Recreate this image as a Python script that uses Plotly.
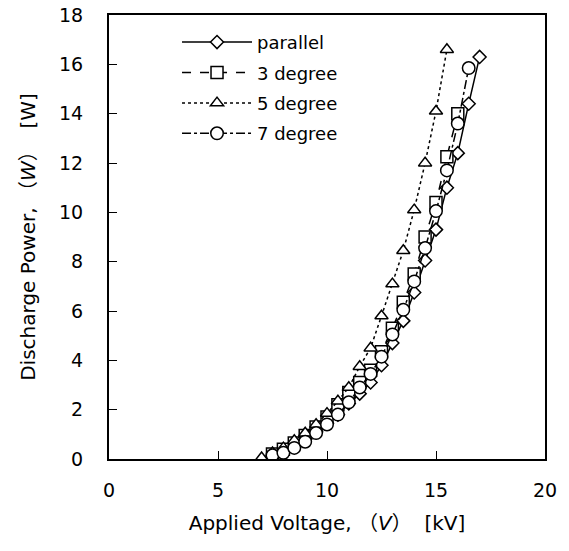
import plotly.graph_objects as go

# Applied voltage (kV) and discharge power (W)
x_parallel = [7.5, 8.0, 8.5, 9.0, 9.5, 10.0, 10.5, 11.0, 11.5, 12.0, 12.5, 13.0, 13.5, 14.0, 14.5, 15.0, 15.5, 16.0, 16.5, 17.0]
y_parallel = [0.1, 0.3, 0.5, 0.8, 1.1, 1.45, 1.8, 2.25, 2.65, 3.1, 3.8, 4.7, 5.6, 6.75, 8.05, 9.3, 11.0, 12.4, 14.4, 16.3]

x_3deg = [7.5, 8.0, 8.5, 9.0, 9.5, 10.0, 10.5, 11.0, 11.5, 12.0, 12.5, 13.0, 13.5, 14.0, 14.5, 15.0, 15.5, 16.0]
y_3deg = [0.2, 0.4, 0.65, 0.95, 1.3, 1.7, 2.2, 2.7, 3.1, 3.6, 4.35, 5.3, 6.35, 7.5, 9.0, 10.4, 12.25, 14.0]

x_5deg = [7.0, 7.5, 8.0, 8.5, 9.0, 9.5, 10.0, 10.5, 11.0, 11.5, 12.0, 12.5, 13.0, 13.5, 14.0, 14.5, 15.0, 15.5]
y_5deg = [0.05, 0.25, 0.45, 0.75, 1.05, 1.4, 1.85, 2.35, 2.9, 3.75, 4.5, 5.8, 7.1, 8.45, 10.1, 12.0, 14.1, 16.6]

x_7deg = [7.5, 8.0, 8.5, 9.0, 9.5, 10.0, 10.5, 11.0, 11.5, 12.0, 12.5, 13.0, 13.5, 14.0, 14.5, 15.0, 15.5, 16.0, 16.5]
y_7deg = [0.15, 0.25, 0.45, 0.7, 1.05, 1.4, 1.8, 2.3, 2.9, 3.45, 4.15, 5.05, 6.05, 7.2, 8.55, 10.05, 11.7, 13.6, 15.85]

x_ticks = [0, 5, 10, 15, 20]
y_ticks = [0, 2, 4, 6, 8, 10, 12, 14, 16, 18]

FONT = "DejaVu Sans, Noto Sans CJK JP, sans-serif"

series = [
    ("parallel", x_parallel, y_parallel, "solid", "diamond", 10),
    ("3 degree", x_3deg, y_3deg, "dash", "square", 12),
    ("5 degree", x_5deg, y_5deg, "dot", "triangle-up", 11.5),
    ("7 degree", x_7deg, y_7deg, "dashdot", "circle", 12.5),
]

fig = go.Figure()
for i, (name, xs, ys, dash, sym, size) in enumerate(series):
    fig.add_trace(go.Scatter(
        x=xs, y=ys, name=name, mode="lines+markers", legendgroup=f"g{i}",
        line=dict(color="black", width=1.5, dash=dash),
        marker=dict(symbol=sym, size=size, color="white",
                    line=dict(color="black", width=1.5)),
    ))

fig.update_layout(
    width=569, height=551,
    margin=dict(l=109, r=24, t=15, b=92),
    paper_bgcolor="white", plot_bgcolor="white",
    font=dict(family=FONT, size=19, color="black"),
    showlegend=True,
    legend=dict(x=0.156, y=0.98, xanchor="left", yanchor="top",
                bgcolor="rgba(0,0,0,0)", font=dict(size=18, family=FONT),
                itemwidth=70, tracegroupgap=4, itemsizing="trace"),
    xaxis=dict(
        range=[0, 20], tickvals=x_ticks, ticktext=[str(v) for v in x_ticks],
        showgrid=False, zeroline=False, showline=True, mirror=True,
        linecolor="black", linewidth=2, ticks="inside", ticklen=8,
        tickcolor="black", tickwidth=1, ticklabelstandoff=13,
        automargin=False,
        title=dict(text="Applied Voltage, （<i>V</i>）  [kV]", standoff=16,
                   font=dict(size=20)),
    ),
    yaxis=dict(
        range=[0, 18], tickvals=y_ticks, ticktext=[str(v) for v in y_ticks],
        showgrid=False, zeroline=False, showline=True, mirror=True,
        linecolor="black", linewidth=2, ticks="inside", ticklen=8,
        tickcolor="black", tickwidth=1, ticklabelstandoff=20,
        automargin=False,
        title=dict(text="Discharge Power, （<i>W</i>）  [W]", standoff=18,
                   font=dict(size=20)),
    ),
)

fig.write_html("out.html", config={"displayModeBar": False},
               post_script="document.body.style.margin='0px';")
